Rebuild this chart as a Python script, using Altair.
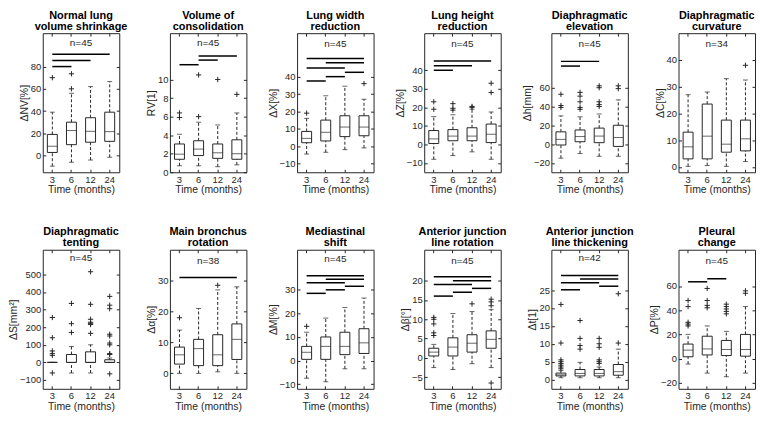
import altair as alt
import pandas as pd

FONT = "Liberation Sans"
INK = "#262626"
PLUS = "M-1,0L1,0M0,-1L0,1"

CATS = ["3", "6", "12", "24"]

TITLES = [
    ["Normal lung", "volume shrinkage"], ["Volume of", "consolidation"],
    ["Lung width", "reduction"], ["Lung height", "reduction"],
    ["Diaphragmatic", "elevation"], ["Diaphragmatic", "curvature"],
    ["Diaphragmatic", "tenting"], ["Main bronchus", "rotation"],
    ["Mediastinal", "shift"], ["Anterior junction", "line rotation"],
    ["Anterior junction", "line thickening"], ["Pleural", "change"],
]
YLABELS = ["ΔNV[%]", "RV[1]", "ΔX[%]", "ΔZ[%]", "Δh[mm]", "ΔC[%]",
           "ΔS[mm²]", "Δα[%]", "ΔM[%]", "Δβ[°]", "Δt[1]", "ΔP[%]"]
NS = [45, 45, 45, 45, 45, 34, 45, 38, 45, 45, 42, 45]
N_Y = [101, 13.9, 59, 54, 106, 46, 593, 36.3, 43, 25, 34, 81]
YDOM = [[-15, 110], [0, 15], [-15, 65], [-15, 60], [-30, 118], [-2, 50],
        [-150, 640], [-5, 40], [-12, 47], [-8, 28], [-2.6, 36.3], [-25, 90]]
YTICKS = [[0, 20, 40, 60, 80], [0, 2, 4, 6, 8, 10], [-10, 0, 10, 20, 30, 40],
          [-10, 0, 10, 20, 30, 40], [-20, 0, 20, 40, 60], [0, 10, 20, 30, 40],
          [-100, 0, 100, 200, 300, 400, 500], [0, 10, 20, 30], [-10, 0, 10, 20, 30],
          [-5, 0, 5, 10, 15, 20], [0, 5, 10, 15, 20, 25], [-20, 0, 20, 40, 60]]

# box statistics per panel: whisker low, Q1, median, Q3, whisker high (for 3, 6, 12, 24 months)
LOW = [[-9.5, -6, -4, -1.5], [0.7, 0.7, 0.6, 0.8], [-4.5, -3.5, -2, -1], [-8, -6, -4, -8],
       [-15, -10, -13, -13], [0.2, 0.5, 0.2, 2], [0, -60, -60, 0], [0, 0, 0.5, 0],
       [-7.5, -9, -3.5, -3.5], [-2.5, -3, -1.5, -2.5], [0.5, 0.5, 0.5, 0.5], [-4.5, -12, -15, -12]]
Q1 = [[2.8, 9.8, 12, 12.8], [1.4, 1.8, 1.5, 1.4], [2, 3, 5.5, 6], [0.5, 2, 2, 1],
      [-1, 2.5, 1.5, -2.5], [3, 3, 5.5, 6], [0, 0, 0, 0], [3, 2.5, 2.5, 4.5],
      [0.5, 0.5, 2.5, 3], [0.5, 0.5, 1.5, 2.5], [1.0, 1.0, 1.0, 1.2], [1.5, 3, 2.5, 2]]
MED = [[8.4, 22.5, 21.8, 21.5], [1.95, 2.5, 2.1, 2.0], [4.5, 8, 11, 11], [3, 4.5, 4.5, 5.5],
       [5, 8, 8.5, 7], [7.5, 11.5, 8.5, 10.5], [0, 0, 0, 0], [6, 8, 6, 11],
       [3.5, 6, 6, 7.5], [1.5, 2.8, 3.8, 4.8], [1.3, 1.7, 1.7, 2.2], [7, 8, 7.5, 7.5]]
Q3 = [[19, 30, 34, 39], [3.05, 3.4, 3.05, 3.5], [8.5, 15, 17.5, 17.5], [7.5, 8, 9, 11],
      [13, 15, 17, 20], [13, 23.5, 17.5, 17.5], [0, 45, 60, 15], [8.5, 11, 12.5, 16],
      [6, 10, 12, 13.5], [2.5, 5.2, 6, 7], [1.8, 2.8, 2.8, 4.2], [12, 18.5, 15, 20]]
HIGH = [[39, 56, 62, 66.5], [4.1, 5.4, 5.1, 6.4], [16, 29, 34.5, 27], [15, 16, 19, 17.5],
        [30, 29, 32, 47], [27, 28, 33, 32.5], [0, 90, 100, 25], [14, 21, 27, 28],
        [12, 18, 22.5, 26.5], [3.5, 11.5, 12, 12.5], [2.5, 4.8, 3.5, 8.5], [20, 27, 22.5, 43]]

# outliers: (time point, value)
OUT = [
    [("3", 70), ("6", 60), ("6", 73.5)],
    [("3", 5.9), ("3", 6.4), ("6", 6.0), ("6", 10.5), ("12", 10.0), ("24", 8.4)],
    [("3", 19), ("24", 36)],
    [("3", 19), ("3", 23), ("6", 18.5), ("6", 19.5), ("6", 22), ("12", 20), ("12", 20.5),
     ("24", 28), ("24", 33)],
    [("3", 39), ("3", 41), ("3", 53), ("6", 37), ("6", 39), ("6", 45), ("6", 51), ("6", 55),
     ("12", 40), ("12", 42), ("12", 45), ("12", 60), ("12", 62), ("24", 59), ("24", 62)],
    [("24", 38)],
    [("3", -60), ("3", 40), ("3", 50), ("3", 65), ("3", 140), ("3", 255),
     ("6", 170), ("6", 220), ("6", 335),
     ("12", 165), ("12", 215), ("12", 222), ("12", 228), ("12", 245), ("12", 330), ("12", 515),
     ("24", -65), ("24", 45), ("24", 50), ("24", 100), ("24", 110), ("24", 150), ("24", 160),
     ("24", 305), ("24", 325), ("24", 375)],
    [("3", 18), ("12", 28.5)],
    [("3", 14.5)],
    [("3", 5.8), ("3", 6.5), ("3", 8.8), ("3", 10), ("3", 10.5), ("12", 14),
     ("24", 13.5), ("24", 14.5), ("24", 15.2), ("24", -6.5)],
    [("3", 3), ("3", 3.5), ("3", 4), ("3", 4.5), ("3", 5), ("3", 5.5), ("3", 10.2), ("3", 21),
     ("6", 8.5), ("6", 9.5), ("6", 11.5), ("6", 16.5),
     ("12", 4.5), ("12", 5), ("12", 5.5), ("12", 9), ("12", 10), ("12", 11.5),
     ("24", 10.2), ("24", 24)],
    [("3", 27), ("3", 28.5), ("3", 30), ("3", 43), ("3", 48), ("6", 42), ("6", 44), ("6", 48),
     ("6", 58), ("12", 37), ("12", 39), ("12", 41), ("12", 43), ("12", 45), ("24", 54), ("24", 56)],
]

# significance bars: (from, to, level)
SIG = [
    [("3", "24", 91), ("3", "12", 85.5), ("3", "6", 80)],
    [("3", "6", 11.6), ("6", "12", 12.1), ("6", "24", 12.55)],
    [("3", "24", 50.5), ("6", "24", 48), ("3", "12", 45), ("12", "24", 42.5),
     ("6", "12", 40), ("3", "6", 37.5)],
    [("3", "24", 45), ("3", "12", 42.5), ("3", "6", 40)],
    [("3", "12", 88), ("3", "6", 83)],
    [],
    [],
    [("3", "24", 31)],
    [("3", "24", 36), ("6", "24", 34.5), ("3", "12", 33), ("12", "24", 31.5),
     ("6", "12", 30), ("3", "6", 28.5)],
    [("3", "24", 21), ("6", "24", 20), ("3", "12", 19), ("12", "24", 18),
     ("6", "12", 17), ("3", "6", 16)],
    [("3", "24", 29.1), ("6", "24", 28.1), ("3", "12", 27.1), ("12", "24", 26.1), ("3", "6", 25.1)],
    [("3", "6", 63.5), ("6", "12", 66)],
]

W = 77
H1 = 140
H2 = 140
HSP = 51
VSP = 78


def make_panel(k, h):
    ysc = alt.Scale(domain=YDOM[k], nice=False, zero=False)
    yax = alt.Axis(title=YLABELS[k], values=YTICKS[k], grid=False, domain=False,
                   tickSize=3, offset=-3, labelPadding=2, titlePadding=1)
    xsc = alt.Scale(domain=CATS, paddingInner=0, paddingOuter=0)
    xax = alt.Axis(title="Time (months)", labelAngle=0, domain=False, grid=False,
                   tickSize=3, offset=-3, labelPadding=2, titlePadding=1)
    X = alt.X("t:N", scale=xsc, axis=xax, sort=CATS)

    def Y(f):
        return alt.Y(f, type="quantitative", scale=ysc, axis=yax)

    box = pd.DataFrame({"t": CATS, "lo": LOW[k], "q1": Q1[k], "md": MED[k],
                        "q3": Q3[k], "hi": HIGH[k]})
    b = alt.Chart(box)
    layers = [
        b.mark_rule(strokeDash=[3, 2], color=INK, strokeWidth=1).encode(x=X, y=Y("lo"), y2="q1"),
        b.mark_rule(strokeDash=[3, 2], color=INK, strokeWidth=1).encode(x=X, y=Y("q3"), y2="hi"),
        b.mark_tick(orient="horizontal", size=5, thickness=1, color=INK).encode(x=X, y=Y("lo")),
        b.mark_tick(orient="horizontal", size=5, thickness=1, color=INK).encode(x=X, y=Y("hi")),
        b.mark_bar(filled=False, size=10, color=INK, strokeWidth=1).encode(x=X, y=Y("q1"), y2="q3"),
        b.mark_tick(orient="horizontal", size=10, thickness=1, color=INK).encode(x=X, y=Y("md")),
    ]
    if OUT[k]:
        od = pd.DataFrame({"t": [o[0] for o in OUT[k]], "v": [o[1] for o in OUT[k]]})
        layers.append(alt.Chart(od).mark_point(shape=PLUS, size=28, filled=False, strokeWidth=1,
                                               color=INK, opacity=1).encode(x=X, y=Y("v")))
    if SIG[k]:
        sd = pd.DataFrame({"a": [s[0] for s in SIG[k]], "b": [s[1] for s in SIG[k]],
                           "v": [s[2] for s in SIG[k]]})
        layers.append(alt.Chart(sd).mark_rule(color="black", strokeWidth=1.5).encode(
            x=alt.X("a:N", scale=xsc, axis=xax, sort=CATS), x2="b:N", y=Y("v")))
    nd = pd.DataFrame({"v": [N_Y[k]], "s": [f"n={NS[k]}"]})
    layers.append(alt.Chart(nd).mark_text(fontSize=10, color=INK, font=FONT).encode(
        x=alt.value(W / 2), y=Y("v"), text="s:N"))

    main = alt.layer(*layers)
    # mirrored inward ticks on the top and right edges (MATLAB "box on")
    mirror = b.mark_tick(opacity=0).encode(
        x=alt.X("t:N", scale=xsc, sort=CATS,
                axis=alt.Axis(orient="top", labels=False, title="", domain=False, grid=False,
                              tickSize=3, offset=-3)),
        y=alt.Y("md:Q", scale=ysc,
                axis=alt.Axis(orient="right", labels=False, title="", values=YTICKS[k],
                              domain=False, grid=False, tickSize=3, offset=-3)),
    )

    return alt.layer(main, mirror).resolve_scale(x="independent", y="independent").properties(
        width=W, height=h,
        title=alt.TitleParams(text=TITLES[k], fontSize=11, fontWeight="bold", font=FONT,
                              color="black", anchor="middle", offset=1, lineHeight=11),
    )


panels = [make_panel(k, H1 if k < 6 else H2) for k in range(12)]

chart = alt.concat(*panels, columns=6, spacing={"row": VSP, "column": HSP}, bounds="flush",
                   padding=0).configure(
    font=FONT
).configure_view(stroke=INK, strokeWidth=1).configure_axis(
    labelFont=FONT, titleFont=FONT, labelFontSize=9.5, titleFontSize=10.5,
    titleFontWeight="normal", labelColor=INK, titleColor=INK, tickColor=INK,
)

chart.save("out.html", embed_options={"renderer": "svg", "actions": False})
